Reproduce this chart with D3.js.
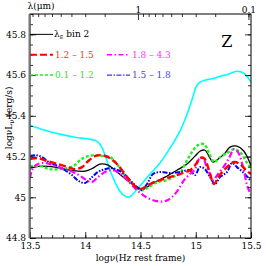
<!DOCTYPE html>
<html>
<head>
<meta charset="utf-8">
<script src="https://cdn.jsdelivr.net/npm/d3@7"></script>
<style>
  body { margin: 0; background: #fff; }
  svg { display: block; }
  text { font-family: "DejaVu Serif", "Liberation Serif", serif; }
</style>
</head>
<body>
<div class="chart"></div>
<script>
// log nu (Hz rest frame) vs log nu L_nu (erg/s)
const black = [
  [13.50, 45.143], [13.59, 45.153], [13.726, 45.148], [13.862, 45.133], [13.998, 45.128],
  [14.070, 45.143], [14.133, 45.163], [14.206, 45.158], [14.287, 45.124], [14.378, 45.084],
  [14.468, 45.050], [14.514, 45.040], [14.559, 45.050], [14.631, 45.075], [14.722, 45.099],
  [14.830, 45.133], [14.921, 45.163], [14.993, 45.202], [15.038, 45.226], [15.084, 45.231],
  [15.129, 45.192], [15.156, 45.173], [15.201, 45.187], [15.265, 45.217], [15.310, 45.246],
  [15.373, 45.251], [15.436, 45.226], [15.491, 45.168], [15.500, 45.153]
]
const red = [
  [13.50, 45.187], [13.572, 45.192], [13.663, 45.177], [13.753, 45.163], [13.844, 45.148],
  [13.907, 45.138], [13.971, 45.148], [14.025, 45.177], [14.088, 45.202], [14.143, 45.207],
  [14.206, 45.197], [14.269, 45.173], [14.333, 45.133], [14.387, 45.094], [14.432, 45.065],
  [14.486, 45.040], [14.541, 45.050], [14.604, 45.070], [14.676, 45.084], [14.767, 45.099],
  [14.857, 45.114], [14.948, 45.133], [15.002, 45.163], [15.038, 45.192], [15.075, 45.192],
  [15.120, 45.133], [15.165, 45.065], [15.210, 45.104], [15.274, 45.143], [15.346, 45.173],
  [15.400, 45.163], [15.455, 45.133], [15.500, 45.114]
]
const green = [
  [13.50, 45.153], [13.59, 45.153], [13.681, 45.138], [13.771, 45.138], [13.844, 45.143],
  [13.907, 45.158], [13.962, 45.187], [14.025, 45.202], [14.088, 45.207], [14.161, 45.202],
  [14.224, 45.197], [14.287, 45.163], [14.342, 45.119], [14.405, 45.075], [14.468, 45.045],
  [14.523, 45.035], [14.586, 45.055], [14.658, 45.075], [14.740, 45.084], [14.794, 45.099],
  [14.857, 45.119], [14.912, 45.173], [14.966, 45.222], [15.020, 45.256], [15.075, 45.261],
  [15.120, 45.217], [15.165, 45.173], [15.219, 45.197], [15.283, 45.217], [15.346, 45.236],
  [15.409, 45.217], [15.455, 45.177], [15.500, 45.143]
]
const blue = [
  [13.50, 45.202], [13.554, 45.207], [13.609, 45.197], [13.681, 45.168], [13.753, 45.153],
  [13.817, 45.133], [13.880, 45.109], [13.943, 45.079], [13.998, 45.070], [14.052, 45.094],
  [14.115, 45.124], [14.179, 45.138], [14.242, 45.143], [14.296, 45.133], [14.351, 45.114],
  [14.405, 45.084], [14.468, 45.050], [14.514, 45.035], [14.559, 45.065], [14.613, 45.114],
  [14.676, 45.124], [14.767, 45.119], [14.857, 45.124], [14.948, 45.133], [14.993, 45.109],
  [15.038, 45.148], [15.084, 45.138], [15.129, 45.099], [15.174, 45.065], [15.219, 45.099],
  [15.283, 45.124], [15.328, 45.168], [15.373, 45.148], [15.436, 45.119], [15.500, 45.079]
]
const magenta = [
  [13.50, 45.094], [13.518, 45.133], [13.554, 45.158], [13.609, 45.168], [13.681, 45.163],
  [13.753, 45.148], [13.844, 45.133], [13.907, 45.119], [13.971, 45.099], [14.025, 45.079],
  [14.061, 45.075], [14.115, 45.099], [14.179, 45.124], [14.242, 45.133], [14.296, 45.124],
  [14.351, 45.099], [14.405, 45.070], [14.468, 45.035], [14.523, 45.011], [14.586, 44.991],
  [14.649, 44.981], [14.722, 44.981], [14.785, 45.001], [14.839, 45.035], [14.894, 45.084],
  [14.948, 45.114], [14.993, 45.138], [15.029, 45.187], [15.066, 45.192], [15.093, 45.158],
  [15.120, 45.124], [15.156, 45.084], [15.201, 45.114], [15.256, 45.153], [15.301, 45.192],
  [15.346, 45.236], [15.382, 45.222], [15.428, 45.148], [15.464, 45.060], [15.500, 45.011]
]
const cyan = [
  [13.50, 45.354], [13.636, 45.329], [13.771, 45.310], [13.907, 45.295], [14.020, 45.287],
  [14.080, 45.281], [14.120, 45.268], [14.150, 45.245], [14.185, 45.198], [14.224, 45.133],
  [14.269, 45.075], [14.314, 45.030], [14.359, 45.006], [14.396, 45.001], [14.432, 45.016],
  [14.495, 45.055], [14.586, 45.114], [14.676, 45.168], [14.767, 45.241], [14.857, 45.325],
  [14.930, 45.420], [14.975, 45.495], [15.005, 45.545], [15.040, 45.566], [15.090, 45.576],
  [15.150, 45.582], [15.219, 45.594], [15.292, 45.604], [15.373, 45.619], [15.436, 45.609],
  [15.500, 45.565]
]

const xTicks = [13.5, 14, 14.5, 15, 15.5]
const yTicks = [44.8, 45, 45.2, 45.4, 45.6, 45.8]
const lambdaLabels = [1, 0.1]

const series = [
  { name: 'cyan', data: cyan, colour: '#00ffff', width: 1.6, dash: null },
  { name: 'black', data: black, colour: '#000000', width: 1.3, dash: null },
  { name: 'green', data: green, colour: '#22ee22', width: 2.4, dash: '3,2' },
  { name: 'blue', data: blue, colour: '#0000ff', width: 2, dash: '5,1.5,1.5,1.5,1.5,1.5' },
  { name: 'magenta', data: magenta, colour: '#ff00ff', width: 2.2, dash: '6,2.5,1.5,2.5' },
  { name: 'red', data: red, colour: '#ff0000', width: 2.4, dash: '7,3' }
]

const legend = [
  { label: '1.2 \u2013 1.5', colour: '#ff0000', dash: '7,3', width: 2, row: 1, col: 0, text: '#ff3333' },
  { label: '1.8 \u2013 4.3', colour: '#ff00ff', dash: '5,2.5,1.5,2.5', width: 1.5, row: 1, col: 1, text: '#ff33ff' },
  { label: '0.1 \u2013 1.2', colour: '#22ee22', dash: '3,2', width: 1.5, row: 2, col: 0, text: '#33dd33' },
  { label: '1.5 \u2013 1.8', colour: '#3333ff', dash: '5,1.5,1.5,1.5', width: 1.2, row: 2, col: 1, text: '#4444ff' }
]

const fullWidth = 266, fullHeight = 266
const margin = { top: 14, right: 15, bottom: 28, left: 30 }
const width = 251 - margin.left
const height = 238 - margin.top

const svg = d3.select('.chart').append('svg')
  .attr('width', fullWidth)
  .attr('height', fullHeight)
const g = svg.append('g').attr('transform', `translate(${margin.left},${margin.top})`)

const x = d3.scaleLinear().domain([13.5, 15.5]).range([0, width])
const y = d3.scaleLinear().domain([44.8, 45.9]).range([height, 0])

// wavelength (micron) at the two ends of the frequency range
const c = 2.998e14
const lam = d3.scaleLog()
  .domain([c / Math.pow(10, 13.5), c / Math.pow(10, 15.5)])
  .range([0, width])

g.append('defs').append('clipPath').attr('id', 'clip')
  .append('rect').attr('width', width).attr('height', height)

// curves
const line = d3.line()
  .x(d => x(d[0]))
  .y(d => y(d[1]))
  .curve(d3.curveCatmullRom.alpha(0.5))

const curves = g.append('g').attr('clip-path', 'url(#clip)')
series.forEach(s => {
  curves.append('path')
    .attr('d', line(s.data))
    .attr('fill', 'none')
    .attr('stroke', s.colour)
    .attr('stroke-width', s.width)
    .attr('stroke-dasharray', s.dash)
    .attr('stroke-linejoin', 'round')
})

// axes, ticks pointing inward
const yMinor = d3.range(0, 23).map(i => 44.8 + i * 0.05)
const xMinor = d3.range(0, 21).map(i => 13.5 + i * 0.1)

function styleAxis(sel) {
  sel.select('.domain').remove()
  sel.selectAll('.tick line').attr('stroke', '#000').attr('stroke-width', 0.8)
  sel.selectAll('.tick text')
    .style('font-family', '"DejaVu Serif", serif')
    .style('font-size', '9px')
    .attr('fill', '#000')
}

g.append('g').call(d3.axisLeft(y).tickValues(yMinor).tickSize(-3).tickFormat('')).call(styleAxis)
g.append('g').call(d3.axisLeft(y).tickValues(yTicks).tickSize(-6).tickPadding(4).tickFormat(d3.format('~g'))).call(styleAxis)
g.append('g').attr('transform', `translate(${width},0)`)
  .call(d3.axisRight(y).tickValues(yMinor).tickSize(-3).tickFormat('')).call(styleAxis)
g.append('g').attr('transform', `translate(${width},0)`)
  .call(d3.axisRight(y).tickValues(yTicks).tickSize(-6).tickFormat('')).call(styleAxis)

g.append('g').attr('transform', `translate(0,${height})`)
  .call(d3.axisBottom(x).tickValues(xMinor).tickSize(-3).tickFormat('')).call(styleAxis)
g.append('g').attr('transform', `translate(0,${height})`)
  .call(d3.axisBottom(x).tickValues(xTicks).tickSize(-6).tickPadding(5).tickFormat(d3.format('~g'))).call(styleAxis)

const lamMinor = d3.range(1, 10).map(i => i * 0.1).concat(d3.range(2, 10))
g.append('g')
  .call(d3.axisTop(lam).tickValues(lamMinor.filter(v => v !== 1)).tickSize(-3).tickFormat('')).call(styleAxis)
g.append('g')
  .call(d3.axisTop(lam).tickValues(lambdaLabels).tickSize(-6).tickPadding(1).tickFormat(d3.format('~g'))).call(styleAxis)

// frame
g.append('rect').attr('width', width).attr('height', height)
  .attr('fill', 'none').attr('stroke', '#000').attr('stroke-width', 1)
g.append('line').attr('x1', -0.5).attr('x2', -0.5).attr('y1', 0).attr('y2', height)
  .attr('stroke', '#777').attr('stroke-width', 2)

// labels
g.append('text').attr('x', 11).attr('y', -5)
  .attr('text-anchor', 'middle').style('font-size', '9px')
  .text('\u03bb(\u03bcm)')

g.append('text')
  .attr('x', width / 2).attr('y', height + 23)
  .attr('text-anchor', 'middle').style('font-size', '9px')
  .text('log\u03bd(Hz rest frame)')

const yl = g.append('text')
  .attr('transform', `translate(-18,${y(45.39)}) rotate(-90)`)
  .attr('text-anchor', 'middle').style('font-size', '9px')
yl.append('tspan').text('log\u03bdL')
yl.append('tspan').text('\u03bd').attr('dy', 2).style('font-size', '7px')
yl.append('tspan').text(' (erg/s)').attr('dy', -2)

g.append('text').attr('x', x(15.28)).attr('y', y(45.74))
  .attr('text-anchor', 'middle').style('font-size', '16px')
  .text('Z')

// legend
const lg = g.append('g')
const row0 = y(45.8)
lg.append('line').attr('x1', 0).attr('x2', 23).attr('y1', row0).attr('y2', row0)
  .attr('stroke', '#000').attr('stroke-width', 1)
const t0 = lg.append('text').attr('x', 24).attr('y', row0 + 3).style('font-size', '9px')
t0.append('tspan').text('\u03bb')
t0.append('tspan').text('E').attr('dy', 2).style('font-size', '5px')
t0.append('tspan').text(' bin 2').attr('dy', -2)

const rowY = [row0, y(45.7), y(45.6)]
legend.forEach(d => {
  const x0 = d.col === 0 ? 0 : 77
  lg.append('line').attr('x1', x0).attr('x2', x0 + 23)
    .attr('y1', rowY[d.row]).attr('y2', rowY[d.row])
    .attr('stroke', d.colour).attr('stroke-width', d.width).attr('stroke-dasharray', d.dash)
  lg.append('text').attr('x', x0 + 25).attr('y', rowY[d.row] + 3)
    .style('font-size', '9px').attr('fill', d.text)
    .text(d.label)
})
</script>
</body>
</html>
